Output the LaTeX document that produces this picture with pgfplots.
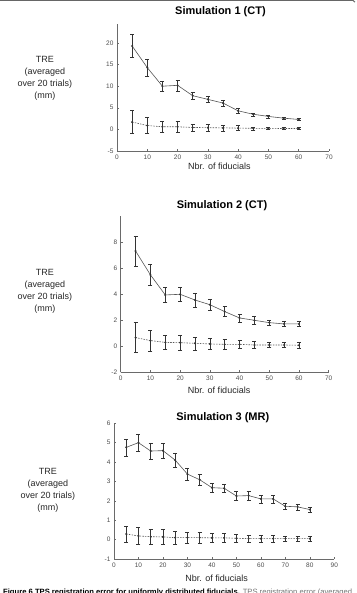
\documentclass[border=0pt]{standalone}
\usepackage{pgfplots}
\pgfplotsset{compat=1.18}
\usepackage{pgfplotstable}
\usepackage{graphicx}
\usepackage{fontspec}
\setmainfont{Liberation Sans}

\definecolor{axisgray}{HTML}{6A6A6A}
\definecolor{linegray}{HTML}{555555}
\definecolor{barblack}{HTML}{333333}

% TRE mean and std over 20 trials: uniform fiducials vs. reference
\pgfplotstableread{
x  y     e
5  19.3  2.7
10 14.3  1.9
15 10.0  1.2
20 10.2  1.25
25 7.8   0.85
30 6.95  0.75
35 6.1   0.7
40 4.3   0.55
45 3.5   0.35
50 3.0   0.3
55 2.6   0.25
60 2.3   0.2
}\simAsolid
\pgfplotstableread{
x  y     e
5  1.7   2.7
10 0.9   1.9
15 0.6   1.2
20 0.6   1.3
25 0.45  0.85
30 0.4   0.75
35 0.35  0.7
40 0.3   0.55
45 0.25  0.35
50 0.25  0.3
55 0.2   0.25
60 0.2   0.2
}\simAdash
\pgfplotstableread{
x  y     e
5  7.33  1.17
10 5.5   0.82
15 3.95  0.57
20 4.0   0.57
25 3.56  0.52
30 3.2   0.4
35 2.67  0.38
40 2.18  0.3
45 2.0   0.28
50 1.82  0.2
55 1.72  0.18
60 1.72  0.18
}\simBsolid
\pgfplotstableread{
x  y     e
5  0.67  1.15
10 0.44  0.82
15 0.3   0.55
20 0.28  0.57
25 0.23  0.5
30 0.18  0.42
35 0.15  0.38
40 0.15  0.3
45 0.1   0.28
50 0.1   0.2
55 0.1   0.2
60 0.08  0.2
}\simBdash
\pgfplotstableread{
x  y     e
5  4.76  0.44
10 5.0   0.45
15 4.57  0.4
20 4.59  0.4
25 4.1   0.37
30 3.38  0.3
35 3.09  0.28
40 2.68  0.23
45 2.65  0.23
50 2.25  0.23
55 2.27  0.22
60 2.1   0.2
65 2.1   0.2
70 1.72  0.15
75 1.69  0.15
80 1.55  0.13
}\simCsolid
\pgfplotstableread{
x  y     e
5  0.29  0.42
10 0.19  0.45
15 0.15  0.38
20 0.14  0.38
25 0.1   0.35
30 0.1   0.3
35 0.1   0.28
40 0.09  0.25
45 0.09  0.25
50 0.07  0.22
55 0.05  0.2
60 0.05  0.2
65 0.05  0.2
70 0.05  0.15
75 0.05  0.15
80 0.05  0.15
}\simCdash

\pgfplotsset{
  tre/.style={
    scale only axis,
    axis x line*=bottom, axis y line*=left,
    axis line style={axisgray, line width=0.6pt},
    every tick/.style={axisgray, line width=0.5pt},
    tick align=inside, major tick length=2pt,
    /pgf/number format/assume math mode=true,
    tick label style={font=\fontsize{6.5}{7}\selectfont, text=black!70},
    title style={font=\bfseries\fontsize{11}{13}\selectfont, anchor=base},
    xlabel={Nbr. of fiducials},
    xlabel style={font=\fontsize{9}{11}\selectfont, anchor=base, text=black!85},
    ylabel={TRE\\(averaged\\over 20 trials)\\(mm)},
    ylabel style={font=\fontsize{9}{12}\selectfont, align=center, rotate=-90,
      anchor=center, text=black!85},
    clip=false,
  },
  meanline/.style={linegray, line width=0.6pt, mark=*, mark size=0.7pt,
    mark options={solid, fill=barblack, draw=barblack},
    /pgfplots/error bars/y dir=both,
    /pgfplots/error bars/y explicit,
    /pgfplots/error bars/error bar style={barblack, line width=0.45pt, solid},
    /pgfplots/error bars/error mark options={barblack, line width=0.45pt,
      mark size=2pt, rotate=90, solid}},
  refline/.style={meanline, /tikz/dash pattern=on 1.5pt off 1.2pt},
}

\begin{document}
\begin{tikzpicture}
\useasboundingbox (0,0) rectangle (356pt,593pt);
\draw[gray!80!black, line width=1pt] (0,592.6pt) -- (353pt,592.6pt) -- (355pt,590.8pt);

% Simulation 1 (CT)
\begin{axis}[tre,
  at={(117pt,442pt)}, anchor=south west,
  width=212pt, height=127pt,
  xmin=0, xmax=70, ymin=-5, ymax=24.4,
  xtick={0,10,...,70}, ytick={-5,0,5,10,15,20},
  title={Simulation 1 (CT)},
  title style={at={(axis description cs:0.488,1)}, yshift=3pt},
  xlabel style={at={(axis description cs:0.483,0)}, yshift=-19pt},
  ylabel style={at={(axis description cs:-0.34,0.575)}},
]
\addplot[meanline] table[x=x, y=y, y error=e] {\simAsolid};
\addplot[refline] table[x=x, y=y, y error=e] {\simAdash};
\end{axis}

% Simulation 2 (CT)
\begin{axis}[tre,
  at={(120.7pt,220.7pt)}, anchor=south west,
  width=208pt, height=156pt,
  xmin=0, xmax=70, ymin=-2, ymax=10,
  xtick={0,10,...,70}, ytick={-2,0,2,4,6,8},
  title={Simulation 2 (CT)},
  title style={at={(axis description cs:0.487,1)}, yshift=2pt},
  xlabel style={at={(axis description cs:0.473,0)}, yshift=-21pt},
  ylabel style={at={(axis description cs:-0.364,0.521)}},
]
\addplot[meanline] table[x=x, y=y, y error=e] {\simBsolid};
\addplot[refline] table[x=x, y=y, y error=e] {\simBdash};
\end{axis}

% Simulation 3 (MR)
\begin{axis}[tre,
  at={(114pt,34pt)}, anchor=south west,
  width=220.3pt, height=135.7pt,
  xmin=0, xmax=90, ymin=-1, ymax=6,
  xtick={0,10,...,90}, ytick={-1,0,...,6},
  title={Simulation 3 (MR)},
  title style={at={(axis description cs:0.494,1)}, yshift=-3.5pt},
  xlabel style={at={(axis description cs:0.466,0)}, yshift=-23pt},
  ylabel style={at={(axis description cs:-0.30,0.508)}},
]
\addplot[meanline] table[x=x, y=y, y error=e] {\simCsolid};
\addplot[refline] table[x=x, y=y, y error=e] {\simCdash};
\end{axis}

\node[anchor=base west, inner sep=0pt] at (3pt,-1.5pt) {\resizebox{349pt}{!}{\fontsize{7}{8}\selectfont
  \textbf{Figure 6 TPS registration error for uniformly distributed fiducials.}
  \textcolor{black!55}{TPS registration error (averaged}}};
\end{tikzpicture}
\end{document}
